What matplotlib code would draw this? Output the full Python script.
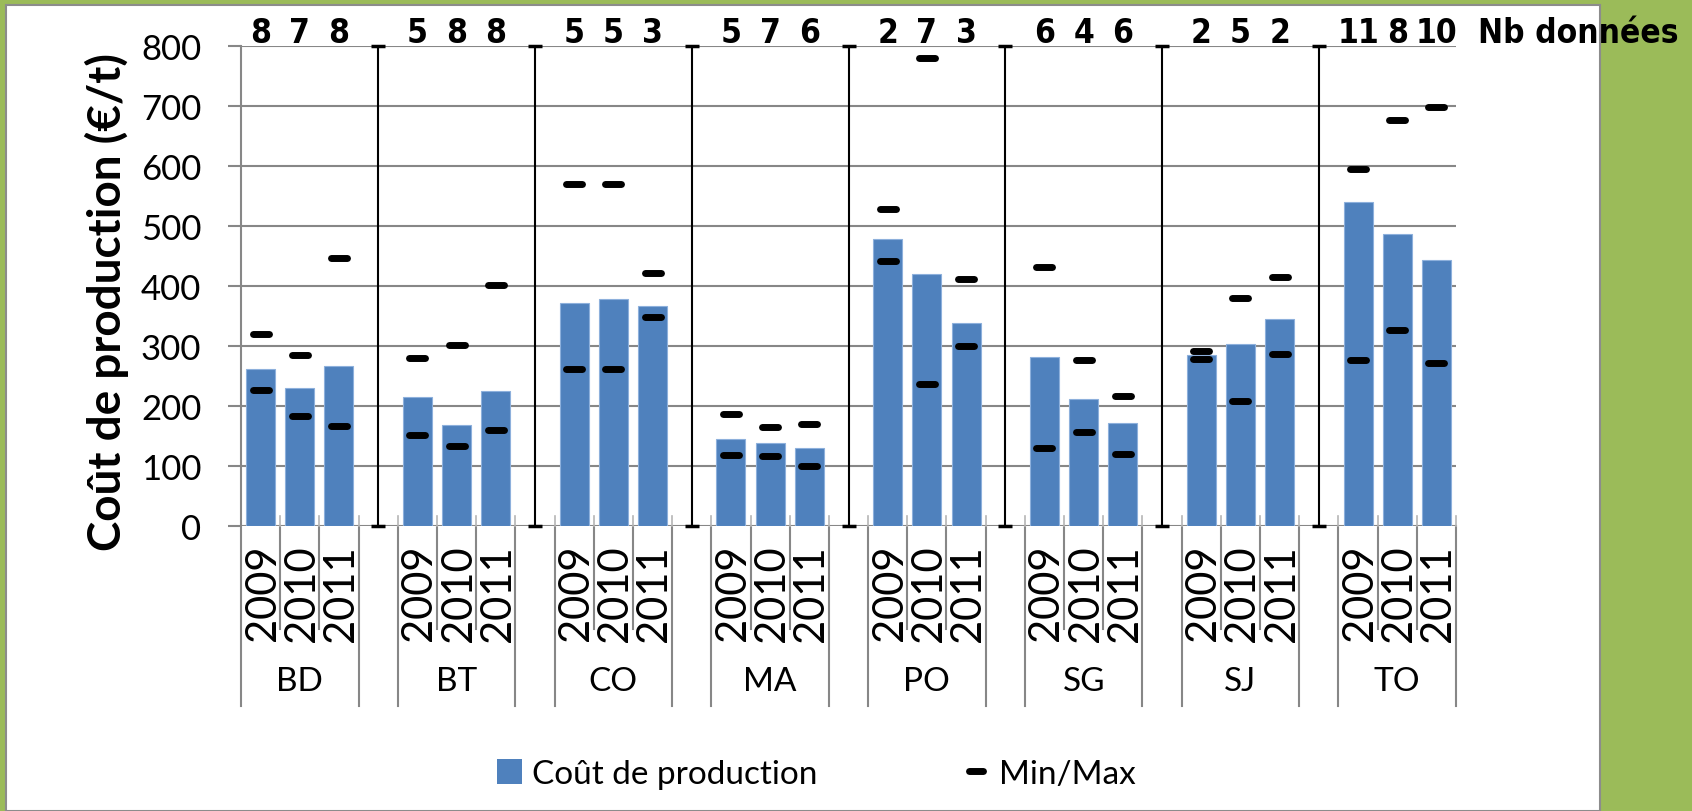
import matplotlib
matplotlib.use("Agg")
import matplotlib.pyplot as plt
from matplotlib.patches import Rectangle, Patch
from matplotlib.lines import Line2D
from matplotlib.markers import MarkerStyle
import matplotlib.transforms as mtransforms

# ---- data ----
groups = ["BD", "BT", "CO", "MA", "PO", "SG", "SJ", "TO"]
years = ["2009", "2010", "2011"]
cost = [262, 229, 267,  214, 168, 224,  372, 378, 366,  145, 138, 130,
        478, 419, 338,  282, 211, 171,  284, 303, 345,  539, 486, 443]
cost_max = [319, 284, 446,  279, 302, 402,  569, 569, 421,  186, 164, 169,
            528, 779, 411,  432, 276, 216,  292, 379, 414,  594, 676, 698]
cost_min = [227, 183, 167,  151, 133, 159,  262, 261, 348,  118, 117, 100,
            441, 237, 299,  129, 157, 119,  278, 208, 287,  277, 326, 271]
nb_data = [8, 7, 8,  5, 8, 8,  5, 5, 3,  5, 7, 6,
           2, 7, 3,  6, 4, 6,  2, 5, 2,  11, 8, 10]
y_ticks = [0, 100, 200, 300, 400, 500, 600, 700, 800]

# ---- layout ----
W, H = 1692, 812
BLUE = "#4F81BD"
GREEN = "#9BBB59"
GRID = "#878787"
SANS = ["Lato", "DejaVu Sans"]
NARROW = ["DejaVu Sans"]

plt.rcParams["font.family"] = SANS

fig = plt.figure(figsize=(W / 100, H / 100), dpi=100)
fig.patch.set_facecolor(GREEN)
fig.patches.append(Rectangle((6 / W, 0), (1600 - 6) / W, 1 - 6 / H,
                             transform=fig.transFigure, facecolor="white",
                             edgecolor="#8c8c8c", linewidth=1.5, zorder=-5))

ax_l, ax_r, ax_t, ax_b = 241, 1456, 46.7, 526.7
ax = fig.add_axes([ax_l / W, 1 - ax_b / H, (ax_r - ax_l) / W, (ax_b - ax_t) / H])
ax.set_facecolor("none")
ax.set_zorder(2)

slot_per_group = 4
xs = [slot_per_group * g + k for g in range(len(groups)) for k in range(len(years))]
n_slots = slot_per_group * len(groups) - 1

ax.set_xlim(-0.5, n_slots - 0.5)
ax.set_ylim(0, 800)

# horizontal grid (y=0 acts as the category axis)
ax.set_axisbelow(True)
ax.set_yticks(y_ticks)
ax.set_yticklabels([str(v) for v in y_ticks], fontsize=25)
ax.yaxis.grid(True, color=GRID, linewidth=1.5)
ax.tick_params(axis="y", length=9.5, width=1.5, color=GRID, pad=19)
ax.set_xticks([])
for s in ax.spines.values():
    s.set_visible(False)

# bars
ax.bar(xs, cost, width=0.74, color=BLUE, edgecolor="#8DB0DC", linewidth=0.8, zorder=2)

# min / max dashes
dash = MarkerStyle("_", capstyle="round")
for series in (cost_max, cost_min):
    ax.plot(xs, series, linestyle="none", marker=dash, markersize=12,
            markeredgewidth=5, color="black", zorder=4, clip_on=False)

# group separators with caps
seps = [slot_per_group * g + 3 for g in range(len(groups) - 1)]
ax.errorbar(seps, [400] * len(seps), yerr=400, fmt="none", ecolor="black",
            elinewidth=1.5, capsize=5, capthick=2.5, zorder=3, clip_on=False)

# category axis: boundaries, small ticks and labels
bt = mtransforms.blended_transform_factory(ax.transData, ax.transAxes)
px = 1 / (ax_b - ax_t)
for g in range(len(groups)):
    left = slot_per_group * g - 0.5
    right = left + len(years)
    for b in (left, right):
        ax.plot([b, b], [-(707 - ax_b) * px, 0 if b > -0.5 else 1], color=GRID,
                linewidth=1.5, transform=bt, clip_on=False, zorder=1)
    for k in (1, 2):
        b = left + k
        ax.plot([b, b], [-(630 - ax_b) * px, 0], color=GRID, linewidth=1.5,
                transform=bt, clip_on=False, zorder=1)
    for b in [left + k for k in range(4)]:
        if b > -0.5:
            ax.plot([b, b], [0, 10 * px], color="#b5b5b5", linewidth=1.2,
                    transform=bt, clip_on=False, zorder=1)
    ax.text(slot_per_group * g + 1, -(682 - ax_b) * px, groups[g], transform=bt,
            ha="center", va="center", fontsize=24)

for x, yr in zip(xs, years * len(groups)):
    ax.text(x + 0.05, -(545 - ax_b) * px, yr, transform=bt, rotation=90,
            ha="center", va="top", fontsize=30)

# number of observations above each bar
for x, n in zip(xs, nb_data):
    ax.text(x, 1 + (ax_t - 43) * px, str(n), transform=bt, ha="center",
            va="baseline", fontsize=24, fontweight="bold", family=NARROW,
            fontstretch="condensed")
fig.text(1478 / W, 1 - 43 / H, "Nb données", ha="left", va="baseline",
         fontsize=24, fontweight="bold", family=NARROW, fontstretch="condensed")

# axis title
fig.text(107 / W, 1 - 302 / H, "Coût de production (€/t)", rotation=90,
         ha="center", va="center", fontsize=33, fontweight="bold")

# legend
handles = [Patch(facecolor=BLUE, edgecolor="none"),
           Line2D([], [], linestyle="none", marker=dash, markersize=10,
                  markeredgewidth=5, color="black")]
fig.legend(handles, ["Coût de production", "Min/Max"], ncol=2, loc="center",
           bbox_to_anchor=(816 / W, 1 - 775 / H), frameon=False, fontsize=24,
           handlelength=0.75, handleheight=0.75, handletextpad=0.3,
           columnspacing=4.4)

fig.savefig("out.png", dpi=100, facecolor=fig.get_facecolor())
